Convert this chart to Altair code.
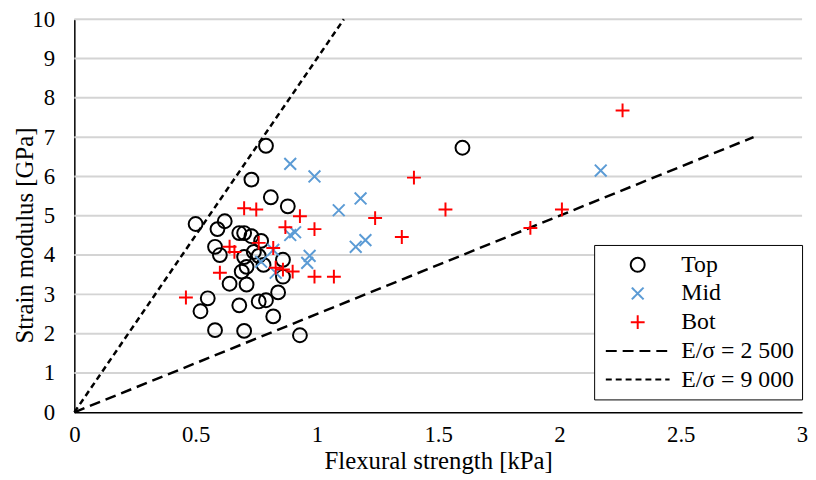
import altair as alt
import pandas as pd

top_x = [0.50, 0.79, 0.73, 0.81, 0.88, 0.62, 0.59, 0.68, 0.70, 0.73, 0.77, 0.58, 0.60, 0.74,
         0.70, 0.76, 0.86, 0.78, 0.71, 0.69, 0.86, 0.64, 0.71, 0.84, 0.55, 0.76, 0.79, 0.52,
         0.68, 0.82, 0.58, 0.70, 0.93, 1.60]
top_y = [4.79, 6.78, 5.92, 5.47, 5.24, 4.86, 4.66, 4.56, 4.56, 4.48, 4.36, 4.21, 4.00, 4.08,
         3.95, 3.98, 3.88, 3.75, 3.70, 3.58, 3.45, 3.27, 3.25, 3.05, 2.90, 2.82, 2.85, 2.57,
         2.72, 2.44, 2.09, 2.07, 1.96, 6.73]

mid_x = [0.89, 0.99, 1.09, 1.18, 0.91, 0.89, 0.82, 0.77, 0.97, 0.96, 0.83, 1.16, 1.20, 2.17]
mid_y = [6.32, 6.00, 5.14, 5.44, 4.58, 4.51, 4.13, 3.83, 3.98, 3.80, 3.55, 4.21, 4.38, 6.15]

bot_x = [0.70, 0.75, 0.93, 0.87, 0.99, 0.76, 0.82, 0.64, 0.66, 0.60, 0.83, 0.86, 0.90, 0.99,
         1.07, 0.46, 1.24, 1.35, 1.40, 1.53, 1.88, 2.01, 2.26]
bot_y = [5.19, 5.16, 4.99, 4.71, 4.66, 4.31, 4.18, 4.21, 4.08, 3.55, 3.68, 3.63, 3.58, 3.45,
         3.45, 2.92, 4.94, 4.46, 5.97, 5.16, 4.69, 5.16, 7.68]

# reference lines E/sigma (GPa per kPa): 2.5 and 9.0
line_names = ["E/σ = 2 500", "E/σ = 9 000"]
line_x = [[0.0, 2.8], [0.0, 10.0 / 9.0]]
line_y = [[0.0, 7.0], [0.0, 10.0]]

x_ticks = [0, 0.5, 1, 1.5, 2, 2.5, 3]
y_ticks = [0, 1, 2, 3, 4, 5, 6, 7, 8, 9, 10]
grid_y = [1, 2, 3, 4, 5, 6, 7, 8, 9, 10]

series = ["Top", "Mid", "Bot"] + line_names
colors = ["#000000", "#5B9BD5", "#FF0000", "#000000", "#000000"]
shapes = ["circle",
          "M-0.85,-0.85L0.85,0.85M-0.85,0.85L0.85,-0.85",
          "M-1,0L1,0M0,-1L0,1",
          "M-4.6,0L4.6,0",
          "M-4.6,0L4.6,0"]
dashes = [[1, 0], [1, 0], [1, 0], [11, 6], [6, 4]]

pts = pd.DataFrame(
    [{"x": a, "y": b, "s": "Top"} for a, b in zip(top_x, top_y)]
    + [{"x": a, "y": b, "s": "Mid"} for a, b in zip(mid_x, mid_y)]
    + [{"x": a, "y": b, "s": "Bot"} for a, b in zip(bot_x, bot_y)]
)
lines = pd.DataFrame(
    [{"x": a, "y": b, "s": n, "o": i}
     for n, xs, ys in zip(line_names, line_x, line_y)
     for i, (a, b) in enumerate(zip(xs, ys))]
)
grid_df = pd.DataFrame({"gy": grid_y, "gx0": [0.0] * len(grid_y), "gx1": [3.0] * len(grid_y)})

FONT = "Liberation Serif"

xs = alt.Scale(domain=[0, 3], nice=False)
ys = alt.Scale(domain=[0, 10], nice=False)

common = dict(ticks=False, labelFlush=False, labelOverlap=False, grid=False,
              domainColor="#000000", domainWidth=1.5,
              labelFont=FONT, labelFontSize=23, labelColor="#000000",
              titleFont=FONT, titleFontSize=25, titleColor="#000000",
              titleFontWeight="normal", labelExpr="'' + datum.value")

x_axis = alt.Axis(values=x_ticks, title="Flexural strength [kPa]",
                  labelPadding=12, titleY=49, titleBaseline="middle", **common)
y_axis = alt.Axis(values=y_ticks, title="Strain modulus [GPa]",
                  labelPadding=20, titleX=-50, titleY=218, titleAngle=-90,
                  titleAlign="center", titleBaseline="middle", **common)

color_enc = alt.Color("s:N", scale=alt.Scale(domain=series, range=colors),
                      legend=alt.Legend(title=None, orient="none", legendX=525, legendY=228,
                                        symbolSize=196, symbolStrokeWidth=2,
                                        symbolOffset=24, labelOffset=32, padding=8,
                                        rowPadding=5, strokeColor="#000000",
                                        fillColor="#ffffff", labelFont=FONT,
                                        labelFontSize=24, labelColor="#000000"))
shape_enc = alt.Shape("s:N", scale=alt.Scale(domain=series, range=shapes))
dash_enc = alt.StrokeDash("s:N", scale=alt.Scale(domain=series, range=dashes))

grid = alt.Chart(grid_df).mark_rule(color="#d4d4d4", strokeWidth=2).encode(
    x=alt.X("gx0:Q", scale=xs, axis=x_axis),
    x2="gx1:Q",
    y=alt.Y("gy:Q", scale=ys, axis=y_axis),
)

ref = alt.Chart(lines).mark_line(strokeWidth=2.5).encode(
    x=alt.X("x:Q", scale=xs, axis=x_axis),
    y=alt.Y("y:Q", scale=ys, axis=y_axis),
    color=color_enc,
    strokeDash=dash_enc,
    detail="s:N",
    order="o:Q",
)

points = alt.Chart(pts).mark_point(filled=False, size=196, strokeWidth=2, opacity=1).encode(
    x=alt.X("x:Q", scale=xs, axis=x_axis),
    y=alt.Y("y:Q", scale=ys, axis=y_axis),
    color=color_enc,
    shape=shape_enc,
)

chart = alt.layer(grid, ref, points).properties(
    width=735, height=397,
    autosize=alt.AutoSizeParams(type="none"),
    padding={"left": 67, "top": 9, "right": 6, "bottom": 60},
).configure_view(stroke=None)

chart.save("out.html", embed_options={"renderer": "svg", "actions": False})
